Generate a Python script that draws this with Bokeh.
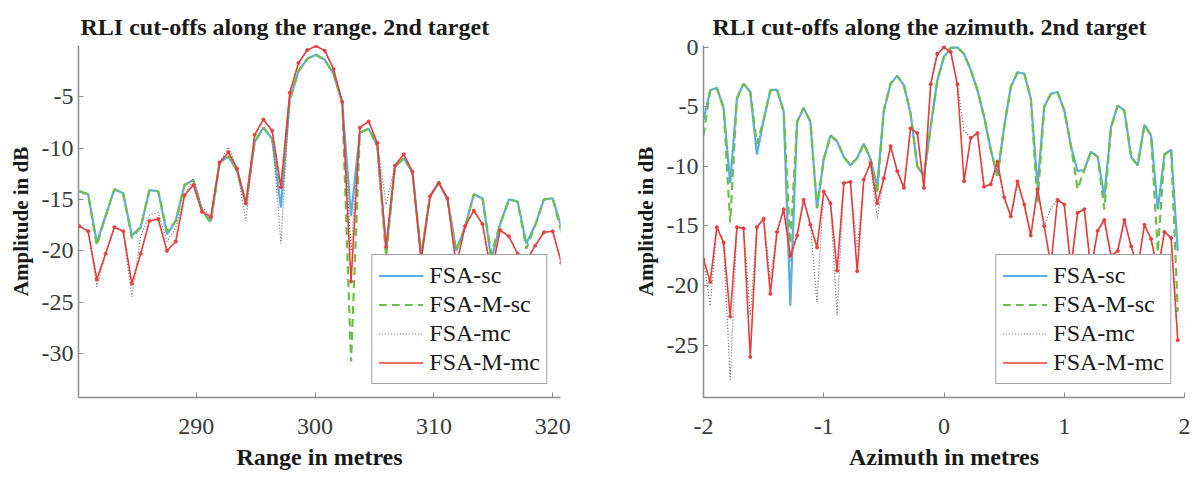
from bokeh.plotting import figure
from bokeh.layouts import row
from bokeh.models import FixedTicker, Range1d, Legend, LegendItem, Title
from bokeh.embed import file_html
from bokeh.resources import INLINE

# ---------------- Left chart: cut-offs along the range ----------------
range_m = [280.17, 280.91, 281.64, 282.38, 283.12, 283.86, 284.59, 285.33, 286.07, 286.81,
           287.54, 288.28, 289.02, 289.76, 290.49, 291.23, 291.97, 292.71, 293.44, 294.18,
           294.92, 295.66, 296.39, 297.13, 297.87, 298.61, 299.34, 300.08, 300.82, 301.56,
           302.29, 303.03, 303.77, 304.51, 305.24, 305.98, 306.72, 307.46, 308.19, 308.93,
           309.67, 310.41, 311.14, 311.88, 312.62, 313.36, 314.09, 314.83, 315.57, 316.31,
           317.04, 317.78, 318.52, 319.26, 319.99, 320.73]

range_fsa_sc = [-14.2, -14.5, -19.2, -16.6, -14.0, -14.4, -18.5, -17.7, -14.1, -14.2,
                -18.4, -17.1, -13.6, -13.1, -16.1, -17.1, -11.4, -10.8, -12.2, -15.5,
                -9.4, -8.0, -9.1, -15.8, -5.3, -2.5, -1.3, -0.9, -1.4, -2.8,
                -5.6, -16.6, -8.5, -8.1, -9.8, -20.0, -11.8, -11.0, -12.3, -20.5,
                -14.7, -13.3, -15.0, -20.0, -17.7, -14.5, -14.9, -20.9, -17.4, -15.0,
                -15.2, -19.3, -17.5, -15.0, -14.9, -17.7]

range_fsa_m_sc = [-14.2, -14.5, -19.5, -16.6, -14.0, -14.4, -18.8, -17.7, -14.1, -14.2,
                  -18.1, -17.1, -13.6, -13.1, -16.1, -17.3, -11.4, -10.8, -12.2, -15.3,
                  -9.4, -8.0, -9.1, -13.9, -5.3, -2.5, -1.3, -0.9, -1.4, -2.8,
                  -5.6, -30.8, -8.5, -8.1, -9.8, -20.6, -11.8, -11.0, -12.3, -20.5,
                  -14.7, -13.3, -15.0, -20.0, -17.7, -14.5, -14.9, -20.3, -17.4, -15.0,
                  -15.2, -19.8, -17.5, -15.0, -14.9, -18.2]

range_fsa_mc = [-17.6, -18.1, -23.5, -20.3, -17.7, -18.1, -24.5, -18.6, -16.5, -16.3,
                -19.1, -17.8, -14.6, -13.0, -15.8, -16.7, -11.4, -9.9, -12.0, -17.1,
                -8.9, -7.2, -8.3, -19.3, -4.6, -1.7, -0.45, -0.05, -0.5, -2.3,
                -5.5, -20.0, -8.0, -7.4, -9.5, -15.5, -11.7, -10.6, -12.3, -20.9,
                -14.7, -13.4, -14.9, -21.5, -17.6, -16.1, -17.4, -22.2, -18.0, -18.6,
                -20.3, -21.0, -19.5, -18.2, -18.1, -21.2]

range_fsa_m_mc = [-17.6, -18.1, -22.8, -20.3, -17.7, -18.1, -23.2, -20.3, -17.1, -16.9,
                  -20.0, -19.1, -14.6, -13.6, -16.2, -16.7, -11.4, -10.4, -12.0, -15.4,
                  -8.7, -7.2, -8.3, -13.8, -4.6, -1.7, -0.45, -0.05, -0.5, -2.3,
                  -5.5, -23.0, -8.0, -7.4, -9.5, -19.6, -11.7, -10.6, -12.3, -20.9,
                  -14.7, -13.4, -14.9, -21.5, -17.6, -16.1, -17.4, -22.2, -18.0, -18.6,
                  -20.3, -21.0, -19.5, -18.2, -18.1, -21.2]

# ---------------- Right chart: cut-offs along the azimuth ----------------
azimuth_m = [-2.000, -1.944, -1.889, -1.833, -1.778, -1.722, -1.667, -1.611, -1.556, -1.500,
             -1.444, -1.389, -1.333, -1.278, -1.222, -1.167, -1.111, -1.056, -1.000, -0.944,
             -0.889, -0.833, -0.778, -0.722, -0.667, -0.611, -0.556, -0.500, -0.444, -0.389,
             -0.333, -0.278, -0.222, -0.167, -0.111, -0.056, 0.000, 0.056, 0.111, 0.167,
             0.222, 0.278, 0.333, 0.389, 0.444, 0.500, 0.556, 0.611, 0.667, 0.722,
             0.778, 0.833, 0.889, 0.944, 1.000, 1.056, 1.111, 1.167, 1.222, 1.278,
             1.333, 1.389, 1.444, 1.500, 1.556, 1.611, 1.667, 1.722, 1.778, 1.833,
             1.889, 1.944]

az_fsa_sc = [-6.1, -3.6, -3.4, -5.1, -11.4, -4.3, -3.05, -3.75, -9.0, -6.1,
             -3.6, -3.55, -5.4, -21.7, -6.25, -5.1, -6.25, -13.5, -9.4, -7.4,
             -7.9, -9.2, -9.9, -9.3, -8.1, -9.4, -11.7, -5.3, -3.05, -2.4,
             -3.2, -5.55, -10.0, -10.8, -6.7, -2.8, -0.8, -0.05, 0.0, -0.55,
             -1.9, -3.6, -5.8, -8.6, -10.8, -6.7, -3.3, -2.1, -2.2, -4.3,
             -11.7, -5.0, -3.9, -3.75, -5.3, -8.3, -10.4, -10.3, -8.75, -9.2,
             -12.5, -6.7, -4.9, -5.3, -9.2, -9.9, -6.5, -7.4, -13.6, -9.0,
             -8.6, -17.1]

az_fsa_m_sc = [-7.4, -3.6, -3.4, -5.1, -14.7, -4.3, -3.05, -3.75, -8.1, -6.1,
               -3.6, -3.55, -5.4, -16.5, -6.25, -5.1, -6.25, -13.5, -9.4, -7.4,
               -7.9, -9.2, -9.9, -9.3, -8.1, -9.4, -12.3, -5.3, -3.05, -2.4,
               -3.2, -5.55, -10.0, -10.8, -6.7, -2.8, -0.8, -0.05, 0.0, -0.55,
               -1.9, -3.6, -5.8, -8.6, -10.8, -6.7, -3.3, -2.1, -2.2, -4.3,
               -13.0, -5.0, -3.9, -3.75, -5.3, -8.3, -11.9, -10.3, -8.75, -9.2,
               -13.6, -6.7, -4.9, -5.3, -9.2, -9.9, -6.5, -7.4, -17.2, -9.0,
               -8.6, -22.2]

az_fsa_mc = [-17.8, -21.7, -15.1, -16.4, -27.9, -15.1, -15.2, -22.5, -15.1, -14.4,
             -19.5, -15.5, -13.6, -18.0, -15.8, -12.8, -14.9, -21.4, -12.1, -13.1,
             -22.5, -11.4, -11.3, -17.0, -11.1, -9.7, -14.4, -11.0, -8.3, -10.4,
             -11.8, -6.8, -7.2, -11.8, -3.1, -0.55, 0.0, -0.4, -3.1, -7.0,
             -7.6, -7.2, -11.7, -11.5, -10.0, -12.6, -14.2, -11.5, -13.2, -15.8,
             -11.9, -15.0, -13.5, -12.8, -13.2, -18.5, -13.9, -13.6, -18.7, -15.4,
             -14.5, -17.5, -17.1, -14.5, -16.7, -18.5, -14.9, -16.1, -18.8, -15.5,
             -16.0, -24.6]

az_fsa_m_mc = [-17.8, -19.7, -15.1, -16.4, -22.6, -15.1, -15.2, -26.0, -15.1, -14.4,
               -20.7, -15.5, -13.6, -17.5, -15.8, -12.8, -14.9, -16.8, -12.1, -13.1,
               -18.75, -11.4, -11.3, -18.8, -11.1, -9.7, -13.1, -11.0, -8.3, -10.4,
               -11.8, -6.8, -7.2, -11.8, -3.1, -0.55, 0.0, -0.4, -3.1, -11.25,
               -7.6, -7.2, -11.7, -11.5, -9.6, -12.6, -14.2, -11.25, -13.2, -15.8,
               -11.9, -15.0, -18.3, -12.8, -13.2, -18.5, -13.9, -13.6, -18.7, -15.4,
               -14.5, -17.5, -17.1, -14.5, -16.7, -18.5, -14.9, -16.1, -18.8, -15.5,
               -16.0, -24.6]

series_names = ["FSA-sc", "FSA-M-sc", "FSA-mc", "FSA-M-mc"]
x_ticks_left = [290, 300, 310, 320]
y_ticks_left = [-30, -25, -20, -15, -10, -5]
x_ticks_right = [-2, -1, 0, 1, 2]
y_ticks_right = [-25, -20, -15, -10, -5, 0]

BLUE = "#5aaee2"
GREEN = "#6cc04a"
GRAY = "#666666"
RED = "#f03a3a"
SERIF = "Liberation Serif"


def hyphen_labels(ticks):
    return {t: str(t) for t in ticks}


def make_panel(x, ys, title, xlabel, xr, yr, xt, yt, width, height,
               bl, br, bt, bb, title_offset, xlabel_offset):
    p = figure(width=width, height=height, output_backend="svg", toolbar_location=None,
               x_range=Range1d(*xr), y_range=Range1d(*yr),
               min_border_left=bl, min_border_right=br, min_border_top=bt, min_border_bottom=bb)
    p.outline_line_color = None
    p.grid.grid_line_color = None
    p.background_fill_color = "white"
    p.border_fill_color = "white"

    r_sc = p.line(x, ys[0], line_color=BLUE, line_width=2.2)
    r_msc = p.line(x, ys[1], line_color=GREEN, line_width=2.2, line_dash="8 5")
    r_mc = p.line(x, ys[2], line_color=GRAY, line_width=1.2, line_dash="1 2")
    r_mmc = p.line(x, ys[3], line_color=RED, line_width=1.6)
    p.scatter(x, ys[3], size=3, color=RED)

    p.title.text = title
    p.title.text_font = SERIF
    p.title.text_font_style = "bold"
    p.title.text_font_size = "24px"
    p.title.text_color = "#1a1a1a"
    p.title.align = "left"
    p.title.offset = title_offset
    p.title.vertical_align = "middle"

    for ax in (p.xaxis[0], p.yaxis[0]):
        ax.axis_line_color = "#8c8c8c"
        ax.axis_line_width = 1.5
        ax.major_tick_line_color = "#8c8c8c"
        ax.major_tick_in = 5
        ax.major_tick_out = 0
        ax.minor_tick_line_color = None
        ax.major_label_text_font = SERIF
        ax.major_label_text_font_size = "24px"
        ax.major_label_text_color = "#3a3a3a"
        ax.axis_label_text_font = SERIF
        ax.axis_label_text_font_style = "bold"
        ax.axis_label_text_font_size = "21px"
        ax.axis_label_text_color = "#1a1a1a"

    p.xaxis[0].ticker = FixedTicker(ticks=xt)
    p.yaxis[0].ticker = FixedTicker(ticks=yt)
    p.xaxis[0].major_label_overrides = hyphen_labels(xt)
    p.yaxis[0].major_label_overrides = hyphen_labels(yt)
    p.yaxis[0].axis_label = "Amplitude in dB"
    p.xaxis[0].major_label_standoff = 21
    p.yaxis[0].major_label_standoff = 5
    p.yaxis[0].axis_label_standoff = 6

    xl = Title(text=xlabel, align="center", offset=xlabel_offset,
               text_font=SERIF, text_font_style="bold", text_font_size="24px",
               text_color="#1a1a1a", vertical_align="bottom")
    p.add_layout(xl, "below")

    legend = Legend(items=[
        LegendItem(label=series_names[0], renderers=[r_sc]),
        LegendItem(label=series_names[1], renderers=[r_msc]),
        LegendItem(label=series_names[2], renderers=[r_mc]),
        LegendItem(label=series_names[3], renderers=[r_mmc]),
    ], location="bottom_right")
    legend.margin = 13
    legend.padding = 6
    legend.spacing = 0
    legend.glyph_width = 45
    legend.glyph_height = 29
    legend.label_height = 29
    legend.label_standoff = 6
    legend.label_text_font = SERIF
    legend.label_text_font_size = "24px"
    legend.label_text_color = "#1a1a1a"
    legend.border_line_color = "#444444"
    legend.border_line_width = 1.3
    legend.background_fill_color = "white"
    legend.background_fill_alpha = 1.0
    p.add_layout(legend, "center")
    return p


p1 = make_panel(range_m, [range_fsa_sc, range_fsa_m_sc, range_fsa_mc, range_fsa_m_mc],
                "RLI cut-offs along the range. 2nd target", "Range in metres",
                (280.1, 320.65), (-34.3, 0.0), x_ticks_left, y_ticks_left,
                600, 477, 78, 40, 38, 80, 2, -39)
p2 = make_panel(azimuth_m, [az_fsa_sc, az_fsa_m_sc, az_fsa_mc, az_fsa_m_mc],
                "RLI cut-offs along the azimuth. 2nd target", "Azimuth in metres",
                (-2.0, 2.0), (-29.4, 0.15), x_ticks_right, y_ticks_right,
                592, 477, 103, 8, 45, 77, 9, -26)

layout = row(p1, p2)
open("out.html", "w").write(file_html(layout, INLINE))
